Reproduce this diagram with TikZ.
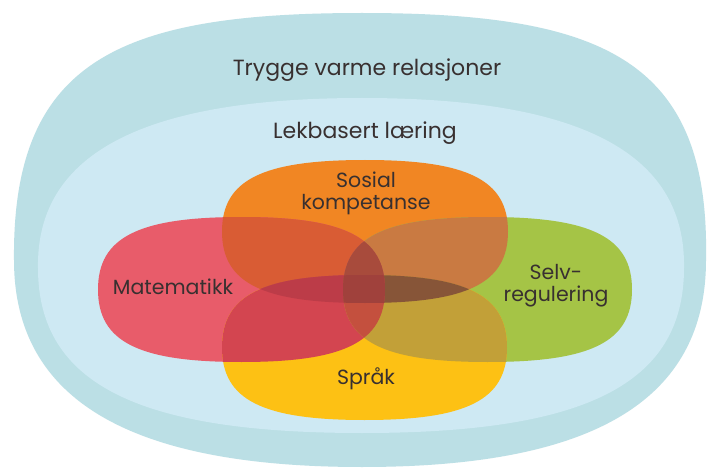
\documentclass[tikz,border=0pt]{standalone}
\usepackage{fontspec}
\setmainfont{Poppins}
\definecolor{outerc}{HTML}{BBDFE5}
\definecolor{innerc}{HTML}{CEE9F3}
\definecolor{colO}{HTML}{F18623}
\definecolor{colR}{HTML}{E85C6A}
\definecolor{colG}{HTML}{A5C446}
\definecolor{colY}{HTML}{FDC114}
\definecolor{colOR}{HTML}{D95C34}
\definecolor{colOG}{HTML}{C97A42}
\definecolor{colRY}{HTML}{D34550}
\definecolor{colGY}{HTML}{C2A038}
\definecolor{colOY}{HTML}{B0603A}
\definecolor{colRG}{HTML}{B85050}
\definecolor{colORG}{HTML}{A84B3C}
\definecolor{colORY}{HTML}{BC3C48}
\definecolor{colOGY}{HTML}{875538}
\definecolor{colRGY}{HTML}{C4503E}
\definecolor{colORGY}{HTML}{A0413C}
\definecolor{txt}{HTML}{383030}
\newcommand\blobpath[4]{(#1,{#2-#4}) .. controls ({#1+0.72*#3},{#2-#4}) and ({#1+#3},{#2-0.72*#4}) .. ({#1+#3},#2)
 .. controls ({#1+#3},{#2+0.72*#4}) and ({#1+0.72*#3},{#2+#4}) .. (#1,{#2+#4})
 .. controls ({#1-0.72*#3},{#2+#4}) and ({#1-#3},{#2+0.72*#4}) .. ({#1-#3},#2)
 .. controls ({#1-#3},{#2-0.72*#4}) and ({#1-0.72*#3},{#2-#4}) .. (#1,{#2-#4}) -- cycle}
\newcommand\pO{\blobpath{365}{231.5}{143}{71.5}}
\newcommand\pR{\blobpath{241.5}{289.5}{143.5}{72.5}}
\newcommand\pG{\blobpath{487.5}{289.5}{144.5}{72.5}}
\newcommand\pY{\blobpath{364.5}{347.5}{142.5}{72.5}}
\begin{document}
\begin{tikzpicture}[x=1pt,y=-1pt,
  lbl/.style={text=txt,font=\fontsize{20.5}{22}\selectfont,align=center,inner sep=0pt},
  lblbig/.style={text=txt,font=\fontsize{22}{24}\selectfont,inner sep=0pt}]
\useasboundingbox (0,0) rectangle (710,468);
\fill[white] (0,0) rectangle (710,468);
% outer region
\fill[outerc] (14,260) .. controls (12,60) and (120,13) .. (362,13)
  .. controls (604,13) and (710,60) .. (706,260)
  .. controls (706,400) and (594,467) .. (362,467)
  .. controls (130,467) and (14,400) .. (14,260) -- cycle;
% inner region
\fill[innerc] (38,268) .. controls (36,150) and (150,98) .. (362,98)
  .. controls (575,98) and (686,150) .. (684,268)
  .. controls (684,385) and (584,433) .. (362,433)
  .. controls (140,433) and (38,385) .. (38,268) -- cycle;
% single blobs
\fill[colO] \pO;
\fill[colR] \pR;
\fill[colG] \pG;
\fill[colY] \pY;
% pairs
\begin{scope}\clip \pO; \fill[colOR] \pR; \end{scope}
\begin{scope}\clip \pO; \fill[colOG] \pG; \end{scope}
\begin{scope}\clip \pO; \fill[colOY] \pY; \end{scope}
\begin{scope}\clip \pR; \fill[colRG] \pG; \end{scope}
\begin{scope}\clip \pR; \fill[colRY] \pY; \end{scope}
\begin{scope}\clip \pG; \fill[colGY] \pY; \end{scope}
% triples
\begin{scope}\clip \pO; \clip \pR; \fill[colORG] \pG; \end{scope}
\begin{scope}\clip \pO; \clip \pR; \fill[colORY] \pY; \end{scope}
\begin{scope}\clip \pO; \clip \pG; \fill[colOGY] \pY; \end{scope}
\begin{scope}\clip \pR; \clip \pG; \fill[colRGY] \pY; \end{scope}
% all four
\begin{scope}\clip \pO; \clip \pR; \clip \pG; \fill[colORGY] \pY; \end{scope}
% labels
\node[lblbig] (trygge) at (367,70) {Trygge varme relasjoner};
\node[lblbig] (lek) at (365,133) {Lekbasert læring};
\node[lbl] (sosial) at (366,193) {Sosial\\kompetanse};
\node[lbl] (mat) at (173,287) {Matematikk};
\node[lbl] (selv) at (556,286) {Selv-\\regulering};
\node[lbl] (sprak) at (366,379) {Språk};
\end{tikzpicture}
\end{document}
